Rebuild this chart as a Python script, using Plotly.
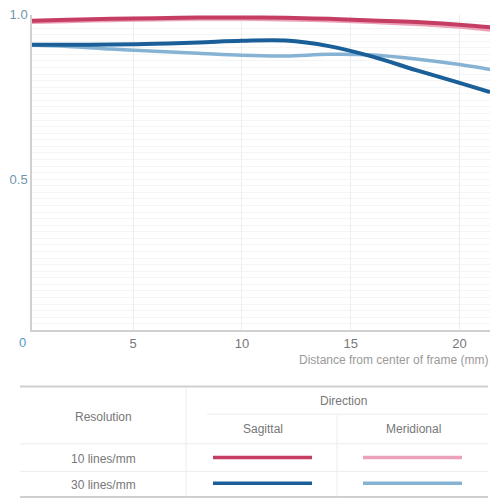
import plotly.graph_objects as go

# MTF data (distance from centre in mm, contrast 0..1)
dist_mm = [0, 2, 4, 6, 8, 10, 12, 14, 16, 18, 20, 21.4]
sag_10 = [0.982, 0.985, 0.988, 0.990, 0.992, 0.992, 0.991, 0.988, 0.983, 0.978, 0.970, 0.962]
mer_10 = [0.978, 0.981, 0.984, 0.986, 0.988, 0.988, 0.986, 0.983, 0.978, 0.972, 0.964, 0.955]
sag_30 = [0.909, 0.909, 0.910, 0.912, 0.916, 0.921, 0.922, 0.905, 0.873, 0.832, 0.793, 0.765]
mer_30 = [0.909, 0.904, 0.896, 0.889, 0.883, 0.877, 0.875, 0.880, 0.878, 0.866, 0.849, 0.834]

x_ticks = [5, 10, 15, 20]
y_ticks = [0.5, 1.0]
y_tick_text = ["0.5", "1.0"]

row_labels = ["10 lines/mm", "30 lines/mm"]
col_labels = ["Sagittal", "Meridional"]

# colours / widths
c_sag_10 = "#c63d63"
c_mer_10 = "#eba2b8"
c_sag_30 = "#1b5f98"
c_mer_30 = "#86b3d4"
FONT = "Liberation Sans Narrow, Liberation Sans, Arial"

W = H = 500


def px(x):
    return x / W


def py(y):
    return 1 - y / H


fig = go.Figure()

series = [
    (mer_10, c_mer_10, 4),
    (sag_10, c_sag_10, 4),
    (mer_30, c_mer_30, 3.5),
    (sag_30, c_sag_30, 4),
]
for vals, col, lw in series:
    fig.add_trace(
        go.Scatter(
            x=dist_mm,
            y=vals,
            mode="lines",
            line=dict(color=col, width=lw, shape="spline", smoothing=1.0),
            hoverinfo="skip"))

shapes = []
annotations = []

# table rules
grey = "#cfcfcf"
shapes.append(dict(type="line", xref="paper", yref="paper", x0=px(20), x1=px(488), y0=py(385), y1=py(385), line=dict(color=grey, width=2)))
shapes.append(dict(type="line", xref="paper", yref="paper", x0=px(20), x1=px(488), y0=py(497), y1=py(497), line=dict(color=grey, width=2)))
shapes.append(dict(type="line", xref="paper", yref="paper", x0=px(207), x1=px(488), y0=py(413), y1=py(413), line=dict(color="#ececec", width=1)))
shapes.append(dict(type="line", xref="paper", yref="paper", x0=px(20), x1=px(488), y0=py(443), y1=py(443), line=dict(color="#ececec", width=1)))
shapes.append(dict(type="line", xref="paper", yref="paper", x0=px(20), x1=px(488), y0=py(471), y1=py(471), line=dict(color="#ececec", width=1)))
shapes.append(dict(type="line", xref="paper", yref="paper", x0=px(186), x1=px(186), y0=py(386), y1=py(496), line=dict(color="#ececec", width=1)))
shapes.append(dict(type="line", xref="paper", yref="paper", x0=px(337), x1=px(337), y0=py(414), y1=py(496), line=dict(color="#ececec", width=1)))

# legend swatches
swatches = [
    (457, 213, 312, c_sag_10), (457, 363, 462, c_mer_10),
    (483, 213, 312, c_sag_30), (483, 363, 462, c_mer_30),
]
for y, xa, xb, col in swatches:
    shapes.append(dict(type="line", xref="paper", yref="paper", x0=px(xa), x1=px(xb), y0=py(y), y1=py(y), line=dict(color=col, width=3.5)))


def text(x, y, s, size=12, color="#777777", xanchor="center"):
    annotations.append(dict(
        xref="paper", yref="paper", x=px(x), y=py(y), text=s, showarrow=False,
        xanchor=xanchor, yanchor="middle",
        font=dict(family=FONT, size=size, color=color)))


text(343, 400, "Direction")
text(103, 416, "Resolution")
text(263, 428, col_labels[0])
text(413, 428, col_labels[1])
text(103, 458, row_labels[0])
text(103, 485, row_labels[1])

# axis title and origin label
text(490, 358, "Distance from center of frame (mm)", size=12, color="#9a9a9a", xanchor="right")
text(22, 340, "0", size=13, color="#4f9cc7")

fig.update_layout(
    width=W,
    height=H,
    margin=dict(l=0, r=0, t=0, b=0),
    paper_bgcolor="white",
    plot_bgcolor="white",
    showlegend=False,
    shapes=shapes,
    annotations=annotations,
    xaxis=dict(
        domain=[px(32), px(490)],
        range=[0.35, 21.4],
        tickvals=x_ticks,
        ticks="",
        showgrid=True,
        gridcolor="#ececec",
        gridwidth=1,
        zeroline=False,
        showline=True,
        linecolor="#d0d0d0",
        linewidth=1.5,
        tickfont=dict(family=FONT, size=13, color="#777777"),
        fixedrange=True),
    yaxis=dict(
        domain=[py(328), py(8)],
        range=[0.04, 1.0],
        tickvals=y_ticks,
        ticktext=y_tick_text,
        ticks="",
        showgrid=True,
        gridcolor="#f5f5f5",
        gridwidth=1,
        minor=dict(dtick=0.02, showgrid=True, gridcolor="#f5f5f5", gridwidth=1),
        zeroline=False,
        showline=True,
        linecolor="#d0d0d0",
        linewidth=1.5,
        tickfont=dict(family=FONT, size=13, color="#6f95ab"),
        fixedrange=True),
)

# drop the default body margin so the 500x500 figure fills the window exactly
fig.write_html("out.html", config={"displayModeBar": False},
               post_script="document.body.style.margin='0';")
